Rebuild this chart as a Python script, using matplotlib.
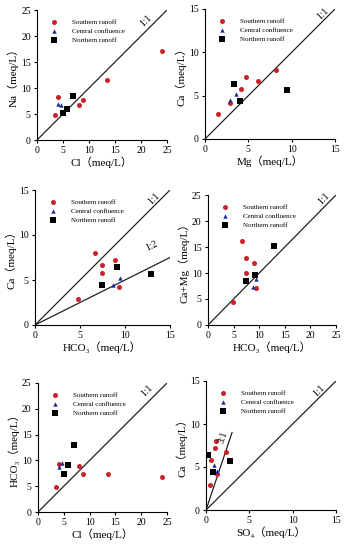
import numpy as np
import matplotlib
matplotlib.use('Agg')
import matplotlib.pyplot as plt

plt.rcParams['font.family'] = ['Liberation Serif', 'DejaVu Serif', 'Noto Sans CJK SC']

# sample data (meq/L)
south_cl = [3.5, 4.0, 8.0, 8.8, 13.5, 24.0]
south_na = [4.8, 8.2, 6.7, 7.6, 11.5, 17.2]
south_hco3 = [4.8, 9.3, 8.9, 7.4, 7.4, 6.7]
south_ca = [2.9, 4.2, 7.2, 6.7, 5.8, 8.0]
south_mg = [1.5, 2.9, 4.7, 6.1, 4.2, 8.2]
south_so4 = [0.5, 1.3, 1.0, 2.3, 0.6, 1.2]

cen_cl = [4.0, 4.6]
cen_na = [6.9, 6.8]
cen_hco3 = [8.7, 9.4]
cen_ca = [4.5, 5.2]
cen_mg = [2.9, 3.6]
cen_so4 = [1.3, 0.9]

nor_cl = [5.0, 5.8, 7.0]
nor_na = [5.2, 6.0, 8.5]
nor_hco3 = [7.4, 9.1, 12.9]
nor_ca = [4.4, 6.4, 5.7]
nor_mg = [4.0, 3.3, 9.5]
nor_so4 = [0.8, 0.2, 2.8]

groups = {
    'Southern runoff': dict(cl=south_cl, na=south_na, hco3=south_hco3, ca=south_ca, mg=south_mg, so4=south_so4),
    'Central confluence': dict(cl=cen_cl, na=cen_na, hco3=cen_hco3, ca=cen_ca, mg=cen_mg, so4=cen_so4),
    'Northern runoff': dict(cl=nor_cl, na=nor_na, hco3=nor_hco3, ca=nor_ca, mg=nor_mg, so4=nor_so4),
}
for g in groups.values():
    g['camg'] = list(np.array(g['ca']) + np.array(g['mg']))

styles = {
    'Southern runoff': dict(marker='o', color='#c9222a', s=13),
    'Central confluence': dict(marker='^', color='#1c2a9c', s=10),
    'Northern runoff': dict(marker='s', color='black', s=13),
}

W, H = 346, 550
fig = plt.figure(figsize=(W / 100, H / 100), dpi=100)

# (xkey, ykey, xlabel, ylabel, max, pixel box l, r, t, b, ratio lines (slope, end x, label, label x, label y))
panels = [
    ('cl', 'na', 'Cl（meq/L）', 'Na（meq/L）', 25, (37, 167, 10, 140),
     [(1, 25, '1:1', 21.0, 23.0)]),
    ('mg', 'ca', 'Mg（meq/L）', 'Ca（meq/L）', 15, (205, 335, 9, 139),
     [(1, 15, '1:1', 13.6, 14.4)]),
    ('hco3', 'ca', 'HCO₃（meq/L）', 'Ca（meq/L）', 15, (35, 170, 190, 325),
     [(1, 15, '1:1', 13.2, 14.0), (0.5, 15, '1:2', 13.0, 8.8)]),
    ('hco3', 'camg', 'HCO₃（meq/L）', 'Ca+Mg（meq/L）', 25, (208, 336, 195, 325),
     [(1, 25, '1:1', 22.6, 24.3)]),
    ('cl', 'hco3', 'Cl（meq/L）', 'HCO₃（meq/L）', 25, (38, 167, 383, 512),
     [(1, 25, '1:1', 21.0, 23.4)]),
    ('so4', 'ca', 'SO₄（meq/L）', 'Ca（meq/L）', 15, (206, 336, 381, 510),
     [(1, 15, '1:1', 13.0, 13.9), (3, 3, '3:1', 2.0, 8.5)]),
]

for xk, yk, xl, yl, vmax, (l, r, t, b), lines in panels:
    ax = fig.add_axes([l / W, 1 - b / H, (r - l) / W, (b - t) / H])
    for name, g in groups.items():
        ax.scatter(g[xk], g[yk], label=name, linewidths=0, zorder=3, **styles[name])
    for k, xe, txt, tx, ty in lines:
        ax.plot([0, xe], [0, xe * k], color='#222222', lw=0.9, zorder=2)
        ang = np.degrees(np.arctan(k * (b - t) / (r - l)))
        ax.text(tx, ty, txt, rotation=ang, fontsize=7, ha='center', va='center')
    ax.set_xlim(0, vmax)
    ax.set_ylim(0, vmax)
    ax.set_xticks(np.arange(0, vmax + 1, 5))
    ax.set_yticks(np.arange(0, vmax + 1, 5))
    ax.spines['top'].set_visible(False)
    ax.spines['right'].set_visible(False)
    for sp in ('left', 'bottom'):
        ax.spines[sp].set_linewidth(0.8)
    ax.tick_params(labelsize=7, length=2.5, width=0.8, pad=2)
    ax.set_xlabel(xl, fontsize=8, labelpad=1)
    ax.set_ylabel(yl, fontsize=8, labelpad=2)
    ax.legend(frameon=False, loc='upper left', bbox_to_anchor=(0.08, 0.93),
              borderaxespad=0, borderpad=0, fontsize=5, scatterpoints=1,
              handlelength=2, handletextpad=1.6, labelspacing=0.45)

fig.savefig('out.png', dpi=100)
